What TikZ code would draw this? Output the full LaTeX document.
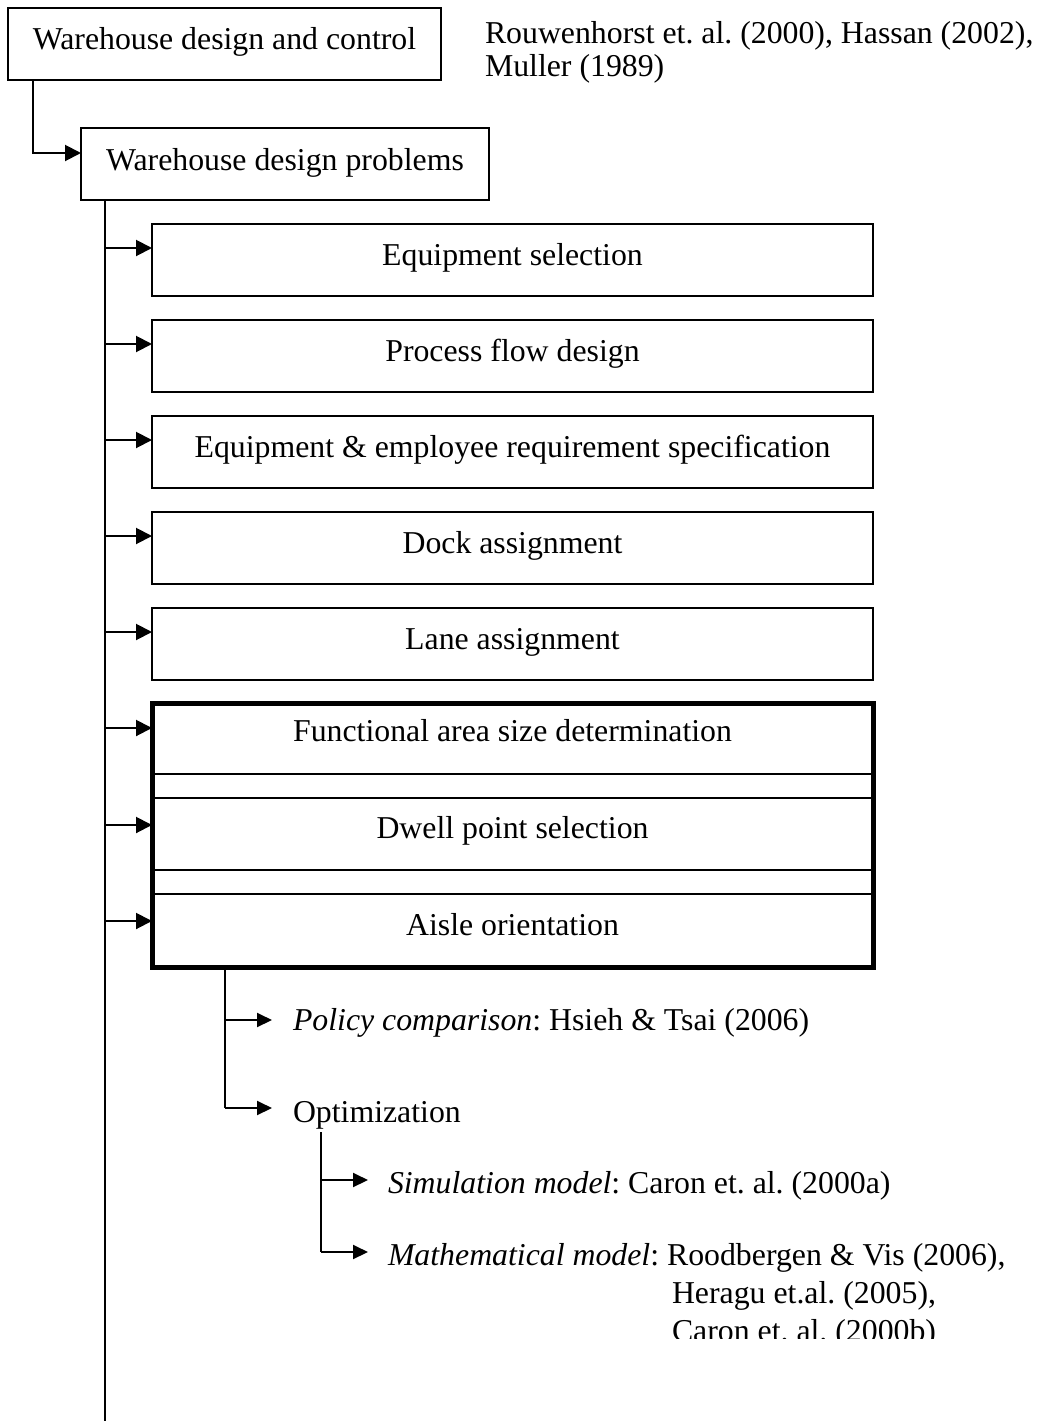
\documentclass[tikz,border=0pt]{standalone}
\usepackage{fontspec}
\setmainfont{Liberation Serif}
\usetikzlibrary{arrows.meta}
\begin{document}
\frenchspacing
\begin{tikzpicture}[x=1pt,y=-1pt,
  every node/.style={font=\fontsize{31.8}{36}\selectfont\frenchspacing, inner sep=0pt, outer sep=0pt},
  box/.style={draw, line width=2pt, minimum width=721pt, text height=41pt, text depth=31pt},
  arr/.style={line width=2pt, -{Triangle[length=16pt,width=16pt]}},
  sarr/.style={line width=2pt, -{Triangle[length=15pt,width=14pt]}},
  ln/.style={line width=2pt},
  lbl/.style={anchor=base west}]
\useasboundingbox (0,0) rectangle (1041,1421);

% top boxes
\node[draw, line width=2pt, minimum width=433pt, text height=42pt, text depth=30pt] (b1) at (224.5,44) {Warehouse design and control};
\node[lbl] (r1) at (485,44) {Rouwenhorst et. al. (2000), Hassan (2002),};
\node[lbl] (r2) at (485,77) {Muller (1989)};
\node[draw, line width=2pt, minimum width=408pt, text height=42pt, text depth=30pt] (b2) at (285,164) {Warehouse design problems};

\coordinate (c1) at (33,80);
\coordinate (c2) at (33,153);
\draw[arr] (c1) -- (c2) -- (c2 -| b2.west);

% main boxes
\node[box] (eq) at (512.5,260) {Equipment selection};
\node[box] (pf) at (512.5,356) {Process flow design};
\node[box] (er) at (512.5,452) {Equipment \& employee requirement specification};
\node[box] (da) at (512.5,548) {Dock assignment};
\node[box] (la) at (512.5,644) {Lane assignment};

% grouped boxes
\node[draw, line width=2pt, minimum width=721pt, text height=38pt, text depth=33pt] (fa) at (512.5,738.5) {Functional area size determination};
\node[draw, line width=2pt, minimum width=721pt, text height=40pt, text depth=32pt] (dw) at (512.5,834) {Dwell point selection};
\node[draw, line width=2pt, minimum width=721pt, text height=41pt, text depth=32pt] (ao) at (512.5,930.5) {Aisle orientation};
\draw[line width=5pt] (fa.north west) rectangle (ao.south east);

% main vertical line
\coordinate (mtop) at (105,200);
\coordinate (mbot) at (105,1421);
\draw[ln] (mtop) -- (mbot);

\foreach \y/\n in {248/eq,344/pf,440/er,536/da,632/la,728/fa,825/dw,921/ao}{
  \coordinate (m\n) at (105,\y);
  \draw[arr] (m\n) -- (m\n -| \n.west);
}

% lower branch
\coordinate (v1) at (225,967);
\coordinate (p1) at (225,1020);
\coordinate (p2) at (225,1108);
\node[lbl] (pol) at (293,1030) {\textit{Policy comparison}: Hsieh \& Tsai (2006)};
\node[lbl] (opt) at (293,1122) {Optimization};
\draw[ln] (v1) -- (p2);
\draw[sarr] (p1) -- ++(47,0);
\draw[sarr] (p2) -- ++(47,0);

\coordinate (v2) at (321,1132);
\coordinate (q1) at (321,1180);
\coordinate (q2) at (321,1252);
\node[lbl] (sim) at (388,1193) {\textit{Simulation model}: Caron et. al. (2000a)};
\node[lbl] (mat) at (388,1265) {\textit{Mathematical model}: Roodbergen \& Vis (2006),};
\node[lbl] (her) at (672,1303) {Heragu et.al. (2005),};
\begin{scope}
\clip (600,1300) rectangle (1041,1338);
\node[lbl] (car) at (672,1341) {Caron et. al. (2000b)};
\end{scope}
\draw[ln] (v2) -- (q2);
\draw[sarr] (q1) -- ++(47,0);
\draw[sarr] (q2) -- ++(47,0);
\end{tikzpicture}
\end{document}
